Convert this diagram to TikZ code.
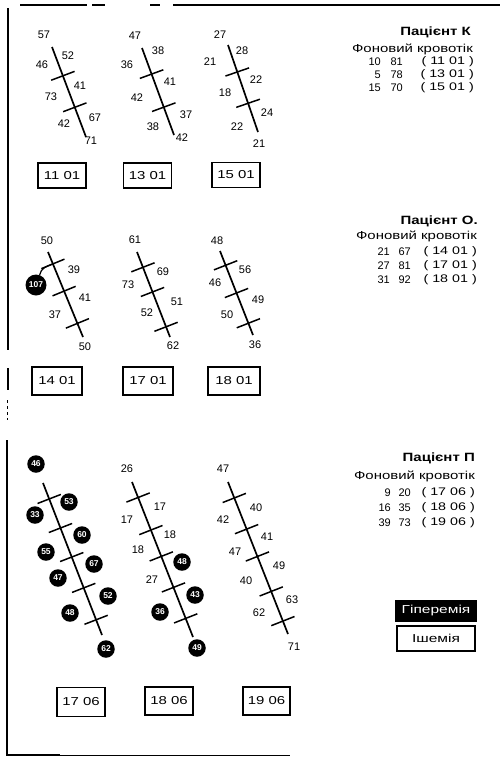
\documentclass[tikz,border=0pt]{standalone}
\usepackage{fontspec}
\setmainfont{Liberation Sans}
\usetikzlibrary{calc}
\newcommand{\wtxt}[2][1.3]{\scalebox{#1}[1]{#2}}
\newcommand{\spineticks}[3]{\foreach \f in {#3} {\draw[tickmark] ($(#1)!\f!(#2)!12.5pt!90:(#2)$) -- ($(#1)!\f!(#2)!12.5pt!-90:(#2)$);}}
\tikzset{
  spine/.style={line width=1.7pt},
  tickmark/.style={line width=1.5pt},
  num/.style={font=\fontsize{11}{12}\selectfont, inner sep=0pt},
  hot/.style={circle, fill=black, text=white, inner sep=0pt, minimum size=17.5pt, font=\bfseries\fontsize{8.5}{9}\selectfont},
  datebox/.style={draw, line width=1.8pt, minimum width=48pt, minimum height=26pt, inner sep=0pt, font=\fontsize{11.5}{12}\selectfont},
  ptitle/.style={anchor=east, inner sep=0pt, font=\bfseries\fontsize{12}{14}\selectfont},
  psub/.style={anchor=east, inner sep=0pt, font=\fontsize{11.5}{14}\selectfont},
  prow/.style={anchor=east, inner sep=0pt, font=\fontsize{11}{13}\selectfont},
  framel/.style={line width=1.4pt},
}
\begin{document}
\begin{tikzpicture}[x=1pt,y=-1pt]
\fill[white] (0,0) rectangle (502,758);
\useasboundingbox (0,0) rectangle (502,758);

% frame
\draw[framel] (20,5) -- (87,5);
\draw[framel] (92,5) -- (105,5);
\draw[framel] (150,5) -- (160,5);
\draw[framel] (173,5) -- (500,5);
\draw[framel] (8,8) -- (8,350);
\draw[framel] (8,368) -- (8,390);
\draw[line width=1pt, dashed] (7,400) -- (7,420);
\draw[framel] (7,440) -- (7,755) -- (60,755);
\draw[line width=0.6pt] (60,755) -- (290,755);

% ================= Patient K =================
\coordinate (k1a) at (52,47);  \coordinate (k1b) at (86,137);
\coordinate (k2a) at (142,48); \coordinate (k2b) at (174,135);
\coordinate (k3a) at (228,45); \coordinate (k3b) at (258,132);
\draw[spine] (k1a) -- (k1b);
\draw[spine] (k2a) -- (k2b);
\draw[spine] (k3a) -- (k3b);
\spineticks{k1a}{k1b}{0.32,0.67}
\spineticks{k2a}{k2b}{0.30,0.68}
\spineticks{k3a}{k3b}{0.31,0.67}

\node[num] (k1v1) at (44,35) {57};
\node[num] (k1v2) at (68,56) {52};
\node[num] (k1v3) at (42,65) {46};
\node[num] (k1v4) at (80,86) {41};
\node[num] (k1v5) at (51,97) {73};
\node[num] (k1v6) at (95,118) {67};
\node[num] (k1v7) at (64,124) {42};
\node[num] (k1v8) at (91,141) {71};

\node[num] (k2v1) at (135,36) {47};
\node[num] (k2v2) at (158,51) {38};
\node[num] (k2v3) at (127,65) {36};
\node[num] (k2v4) at (170,82) {41};
\node[num] (k2v5) at (137,98) {42};
\node[num] (k2v6) at (186,115) {37};
\node[num] (k2v7) at (153,127) {38};
\node[num] (k2v8) at (182,138) {42};

\node[num] (k3v1) at (220,35) {27};
\node[num] (k3v2) at (242,51) {28};
\node[num] (k3v3) at (210,62) {21};
\node[num] (k3v4) at (256,80) {22};
\node[num] (k3v5) at (225,93) {18};
\node[num] (k3v6) at (267,113) {24};
\node[num] (k3v7) at (237,127) {22};
\node[num] (k3v8) at (259,144) {21};

\node[datebox, minimum height=25pt] (kd1) at (62,175.5) {\wtxt{11 01}};
\node[datebox, minimum height=25pt] (kd2) at (147.5,175.5) {\wtxt{13 01}};
\node[datebox, minimum height=25pt] (kd3) at (236,175) {\wtxt{15 01}};

\node[ptitle] (kt) at (471,32) {\wtxt[1.25]{Пацієнт К}};
\node[psub] (ks) at (473,49) {\wtxt[1.3]{Фоновий кровотік}};
\node[prow] (kr1a) at (381,62) {10};
\node[prow] (kr1b) at (403,62) {81};
\node[prow] (kr1c) at (474,62) {\wtxt{( 11 01 )}};
\node[prow] (kr2a) at (381,75) {5};
\node[prow] (kr2b) at (403,75) {78};
\node[prow] (kr2c) at (474,75) {\wtxt{( 13 01 )}};
\node[prow] (kr3a) at (381,88) {15};
\node[prow] (kr3b) at (403,88) {70};
\node[prow] (kr3c) at (474,88) {\wtxt{( 15 01 )}};

% ================= Patient O =================
\coordinate (o1a) at (48,252);  \coordinate (o1b) at (83,337);
\coordinate (o2a) at (137,252); \coordinate (o2b) at (170,337);
\coordinate (o3a) at (220,251); \coordinate (o3b) at (253,335);
\draw[spine] (o1a) -- (o1b);
\draw[spine] (o2a) -- (o2b);
\draw[spine] (o3a) -- (o3b);
\spineticks{o1a}{o1b}{0.14,0.46,0.84}
\spineticks{o2a}{o2b}{0.18,0.47,0.88}
\spineticks{o3a}{o3b}{0.17,0.50,0.86}
\coordinate (o1t1) at ($(o1a)!0.14!(o1b)$);

\node[num] (o1v1) at (47,241) {50};
\node[num] (o1v2) at (74,270) {39};
\node[hot, minimum size=21pt] (o1v3) at (36,285) {107};
\node[num] (o1v4) at (85,298) {41};
\node[num] (o1v5) at (55,315) {37};
\node[num] (o1v6) at (85,347) {50};
\draw[line width=1.2pt] (o1v3.70) to[out=80,in=200] (o1t1);

\node[num] (o2v1) at (135,240) {61};
\node[num] (o2v2) at (163,272) {69};
\node[num] (o2v3) at (128,285) {73};
\node[num] (o2v4) at (177,302) {51};
\node[num] (o2v5) at (147,313) {52};
\node[num] (o2v6) at (173,346) {62};

\node[num] (o3v1) at (217,241) {48};
\node[num] (o3v2) at (245,270) {56};
\node[num] (o3v3) at (215,283) {46};
\node[num] (o3v4) at (258,300) {49};
\node[num] (o3v5) at (227,315) {50};
\node[num] (o3v6) at (255,345) {36};

\node[datebox, minimum width=50pt, minimum height=28pt] (od1) at (57,381) {\wtxt{14 01}};
\node[datebox, minimum width=50pt, minimum height=28pt] (od2) at (148,381) {\wtxt{17 01}};
\node[datebox, minimum width=52pt, minimum height=28pt] (od3) at (234,381) {\wtxt{18 01}};

\node[ptitle] (ot) at (478,221) {\wtxt[1.25]{Пацієнт О.}};
\node[psub] (os) at (477,236) {\wtxt[1.3]{Фоновий кровотік}};
\node[prow] (or1a) at (390,252) {21};
\node[prow] (or1b) at (411,252) {67};
\node[prow] (or1c) at (477,252) {\wtxt{( 14 01 )}};
\node[prow] (or2a) at (390,266) {27};
\node[prow] (or2b) at (411,266) {81};
\node[prow] (or2c) at (477,266) {\wtxt{( 17 01 )}};
\node[prow] (or3a) at (390,280) {31};
\node[prow] (or3b) at (411,280) {92};
\node[prow] (or3c) at (477,280) {\wtxt{( 18 01 )}};

% ================= Patient P =================
\coordinate (p1a) at (43,483);  \coordinate (p1b) at (102,635);
\coordinate (p2a) at (132,482); \coordinate (p2b) at (193,637);
\coordinate (p3a) at (228,482); \coordinate (p3b) at (288,634);
\draw[spine] (p1a) -- (p1b);
\draw[spine] (p2a) -- (p2b);
\draw[spine] (p3a) -- (p3b);
\spineticks{p1a}{p1b}{0.105,0.296,0.487,0.69,0.90}
\spineticks{p2a}{p2b}{0.10,0.31,0.48,0.68,0.88}
\spineticks{p3a}{p3b}{0.105,0.31,0.49,0.72,0.915}

\node[hot] (p1v1) at (36,464) {46};
\node[hot] (p1v2) at (69,502) {53};
\node[hot] (p1v3) at (35,515) {33};
\node[hot] (p1v4) at (82,535) {60};
\node[hot] (p1v5) at (46,552) {55};
\node[hot] (p1v6) at (94,564) {67};
\node[hot] (p1v7) at (58,578) {47};
\node[hot] (p1v8) at (108,596) {52};
\node[hot] (p1v9) at (70,613) {48};
\node[hot] (p1v10) at (106,649) {62};

\node[num] (p2v1) at (127,469) {26};
\node[num] (p2v2) at (160,507) {17};
\node[num] (p2v3) at (127,520) {17};
\node[num] (p2v4) at (170,535) {18};
\node[num] (p2v5) at (138,550) {18};
\node[hot] (p2v6) at (182,562) {48};
\node[num] (p2v7) at (152,580) {27};
\node[hot] (p2v8) at (195,595) {43};
\node[hot] (p2v9) at (160,612) {36};
\node[hot] (p2v10) at (197,648) {49};

\node[num] (p3v1) at (223,469) {47};
\node[num] (p3v2) at (256,508) {40};
\node[num] (p3v3) at (223,520) {42};
\node[num] (p3v4) at (267,537) {41};
\node[num] (p3v5) at (235,552) {47};
\node[num] (p3v6) at (279,566) {49};
\node[num] (p3v7) at (246,581) {40};
\node[num] (p3v8) at (292,600) {63};
\node[num] (p3v9) at (259,613) {62};
\node[num] (p3v10) at (294,647) {71};

\node[datebox, minimum height=29pt] (pd1) at (81,702) {\wtxt{17 06}};
\node[datebox, minimum height=28pt] (pd2) at (169,701) {\wtxt{18 06}};
\node[datebox, minimum width=47pt, minimum height=28pt] (pd3) at (266.5,701) {\wtxt{19 06}};

\node[ptitle] (pt) at (475,458) {\wtxt[1.25]{Пацієнт П}};
\node[psub] (ps) at (475,476) {\wtxt[1.3]{Фоновий кровотік}};
\node[prow] (pr1a) at (391,493) {9};
\node[prow] (pr1b) at (411,493) {20};
\node[prow] (pr1c) at (475,493) {\wtxt{( 17 06 )}};
\node[prow] (pr2a) at (391,508) {16};
\node[prow] (pr2b) at (411,508) {35};
\node[prow] (pr2c) at (475,508) {\wtxt{( 18 06 )}};
\node[prow] (pr3a) at (391,523) {39};
\node[prow] (pr3b) at (411,523) {73};
\node[prow] (pr3c) at (475,523) {\wtxt{( 19 06 )}};

% legend
\node[fill=black, text=white, minimum width=82pt, minimum height=22pt, inner sep=0pt,
      font=\fontsize{11.5}{13}\selectfont] (leg1) at (436,610.5) {\wtxt[1.35]{Гіперемія}};
\node[draw, line width=1.8pt, minimum width=78pt, minimum height=25pt, inner sep=0pt,
      font=\fontsize{11.5}{13}\selectfont] (leg2) at (436,638.5) {\wtxt[1.35]{Ішемія}};
\end{tikzpicture}
\end{document}
